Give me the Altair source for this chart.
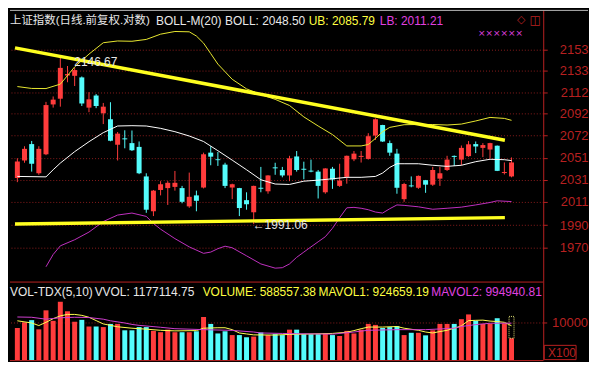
import altair as alt
import pandas as pd

# ---------------- data ----------------
bar_index = list(range(1, 71))
open_ = [2032.6, 2048.6, 2063.7, 2036.9, 2054.3, 2100.7, 2106.1, 2128.1, 2127.8, 2126.3,
         2097.7, 2109.1, 2092.4, 2086.8, 2063.1, 2069.0, 2064.6, 2061.1, 2034.0, 2002.5,
         2021.7, 2023.4, 2024.5, 2023.4, 2006.9, 2016.8, 2023.9, 2055.8, 2049.7, 2044.8,
         2023.9, 2023.4, 2012.5, 2001.6, 2023.7, 2020.5, 2042.3, 2039.9, 2034.9, 2052.3,
         2041.0, 2039.3, 2038.4, 2019.6, 2041.0, 2025.4, 2033.6, 2049.7, 2051.9, 2050.0,
         2071.6, 2081.4, 2064.6, 2054.9, 2013.4, 2025.8, 2023.7, 2030.6, 2026.5, 2032.0,
         2039.9, 2052.8, 2049.4, 2052.6, 2063.7, 2060.2, 2058.7, 2062.2, 2037.1, 2034.0]
close = [2047.7, 2059.3, 2045.6, 2059.3, 2100.1, 2105.2, 2135.4, 2129.5, 2133.3, 2101.6,
         2105.5, 2099.2, 2098.6, 2066.8, 2073.4, 2068.1, 2058.0, 2036.9, 2003.9, 2021.1,
         2026.9, 2028.2, 2028.2, 2011.0, 2015.5, 2011.9, 2054.3, 2052.1, 2048.9, 2025.4,
         2026.9, 2005.4, 2008.8, 2025.4, 2022.8, 2034.9, 2041.4, 2034.9, 2050.6, 2039.9,
         2040.1, 2038.4, 2025.4, 2041.3, 2031.2, 2030.3, 2052.9, 2054.9, 2052.8, 2071.0,
         2086.8, 2066.1, 2055.8, 2023.7, 2027.1, 2025.0, 2034.5, 2026.5, 2039.9, 2036.9,
         2049.4, 2051.9, 2060.2, 2063.5, 2061.5, 2062.8, 2064.6, 2039.1, 2038.0, 2046.8]
high = [2050.6, 2061.7, 2066.6, 2061.7, 2103.1, 2108.2, 2146.67, 2137.2, 2135.4, 2127.2,
        2112.3, 2110.5, 2102.1, 2102.8, 2074.9, 2076.5, 2076.3, 2066.1, 2036.9, 2021.7,
        2029.7, 2029.7, 2039.0, 2025.4, 2037.5, 2021.1, 2055.8, 2061.7, 2056.4, 2046.5,
        2027.4, 2023.6, 2019.6, 2025.6, 2042.7, 2035.1, 2046.5, 2042.7, 2052.9, 2057.3,
        2047.5, 2049.4, 2039.9, 2041.5, 2042.7, 2045.6, 2053.1, 2057.3, 2057.3, 2073.8,
        2087.6, 2081.6, 2067.0, 2059.3, 2028.2, 2034.0, 2034.9, 2030.8, 2042.7, 2042.7,
        2052.9, 2053.2, 2062.4, 2066.5, 2066.1, 2064.6, 2064.9, 2062.4, 2046.8, 2051.4]
low = [2028.8, 2046.5, 2038.4, 2035.5, 2053.5, 2097.7, 2098.6, 2121.7, 2118.1, 2099.2,
       2093.4, 2097.2, 2082.3, 2066.3, 2048.6, 2059.8, 2057.3, 2036.1, 2001.1, 1998.2,
       2016.8, 2008.2, 2021.1, 2009.7, 2005.6, 2002.5, 2023.1, 2044.2, 2043.6, 2023.4,
       2013.4, 1998.2, 2003.9, 1991.06, 2019.6, 2018.3, 2035.5, 2033.2, 2029.7, 2038.4,
       2031.4, 2037.8, 2014.0, 2018.3, 2022.7, 2024.5, 2027.4, 2048.0, 2046.7, 2049.4,
       2067.5, 2065.7, 2052.9, 2018.3, 2011.0, 2024.1, 2022.7, 2019.1, 2025.4, 2025.4,
       2039.0, 2043.6, 2044.2, 2051.9, 2055.4, 2051.7, 2050.6, 2038.9, 2035.8, 2033.2]
volume = [864100, 1017900, 1076900, 828200, 1341000, 1059000, 1571800, 1315400, 1033300, 1084600,
          905100, 905100, 889700, 974400, 974400, 802600, 802600, 889700, 889700, 787200,
          751300, 820500, 751300, 751300, 751300, 776900, 1161500, 974400, 717900, 776900,
          674400, 674400, 615400, 633300, 743600, 674400, 700000, 674400, 820500, 820500,
          700000, 700000, 700000, 717900, 674400, 648700, 787200, 717900, 820500, 974400,
          948700, 864100, 889700, 915400, 674400, 735900, 735900, 666700, 802600, 974400,
          974400, 974400, 1102600, 1230800, 1059000, 974400, 974400, 1128200, 992300, 588557.38]

mid_i = [1, 5, 6, 7, 9, 11, 13, 15, 17, 19, 21, 23, 25, 27, 29, 31, 33, 35, 37, 39, 41, 43, 45,
         47, 49, 51, 52, 53, 54, 55, 57, 59, 61, 63, 65, 67, 69, 70]
mid_v = [2034.0, 2033.6, 2040.1, 2046.2, 2056.7, 2065.9, 2074.3, 2080.5, 2080.8, 2080.5, 2078.3,
         2075.2, 2071.2, 2066.1, 2057.6, 2048.9, 2040.1, 2031.0, 2027.1, 2026.7, 2029.7, 2030.6,
         2031.9, 2033.2, 2033.2, 2034.0, 2037.1, 2042.3, 2045.6, 2045.6, 2045.6, 2044.2, 2043.2,
         2044.2, 2047.5, 2049.7, 2049.3, 2048.50]
ub_i = [1, 3, 5, 7, 9, 11, 13, 15, 17, 19, 21, 23, 25, 26, 27, 28, 29, 31, 33, 35, 37, 39, 41,
        43, 45, 47, 49, 50, 51, 52, 53, 55, 57, 59, 61, 63, 65, 67, 69, 70]
ub_v = [2117.6, 2115.8, 2115.7, 2119.9, 2136.3, 2148.6, 2159.6, 2161.3, 2161.0, 2162.8, 2167.9,
        2170.5, 2170.2, 2166.1, 2159.2, 2149.1, 2139.0, 2124.5, 2115.4, 2110.0, 2105.5, 2099.7,
        2089.0, 2080.5, 2072.5, 2062.0, 2062.0, 2063.3, 2069.0, 2075.2, 2079.2, 2081.7, 2081.9,
        2081.9, 2081.4, 2082.3, 2085.2, 2088.5, 2087.6, 2085.79]
lb_i = [5, 6, 7, 9, 11, 13, 15, 17, 19, 20, 21, 23, 25, 27, 28, 29, 30, 31, 33, 35, 37, 38, 39,
        40, 41, 42, 43, 44, 45, 46, 47, 48, 49, 50, 51, 52, 53, 54, 55, 57, 59, 61, 63, 65, 67,
        68, 70]
lb_v = [1953.3, 1964.1, 1971.7, 1977.1, 1983.9, 1993.3, 1999.1, 2000.9, 1997.9, 1991.6, 1986.5,
        1978.1, 1970.8, 1965.1, 1966.2, 1969.2, 1971.4, 1970.0, 1962.9, 1955.8, 1952.1, 1952.5,
        1955.8, 1961.6, 1966.2, 1970.8, 1975.3, 1979.8, 1987.3, 1996.7, 2005.6, 2006.0, 2005.2,
        2003.9, 2001.8, 2000.9, 2004.8, 2008.2, 2007.8, 2006.5, 2004.3, 2005.2, 2006.2, 2008.2,
        2010.4, 2011.9, 2011.21]

mavol1_i = [1, 3, 4, 5, 6, 7, 8, 9, 10, 11, 12, 13, 15, 17, 19, 21, 23, 26, 27, 29, 30, 31, 32,
            33, 34, 37, 39, 41, 45, 47, 48, 49, 50, 52, 54, 55, 57, 58, 59, 60, 61, 62, 63, 64,
            65, 66, 67, 68, 69, 70]
mavol1_v = [1059000, 1000000, 930800, 1017900, 1115400, 1192300, 1230800, 1230800, 1205100,
            1153800, 1064100, 974400, 897400, 859000, 833300, 802600, 787200, 794900, 859000,
            871800, 871800, 820500, 730800, 705100, 679500, 674400, 692300, 700000, 717900,
            751300, 794900, 846200, 889700, 889700, 905100, 859000, 802600, 756400, 730800,
            769200, 802600, 859000, 923100, 1064100, 1071800, 1076900, 1051300, 1038500,
            1017900, 924659.19]
mavol2_i = [1, 3, 5, 7, 9, 11, 13, 14, 16, 17, 18, 21, 23, 27, 31, 34, 35, 38, 40, 45, 48, 49,
            50, 54, 58, 60, 62, 63, 65, 66, 67, 70]
mavol2_v = [1161500, 1153800, 1102600, 1141000, 1153800, 1146200, 1102600, 1059000, 1000000,
            961500, 935900, 884600, 846200, 820500, 800000, 756400, 730800, 717900, 710300,
            700000, 756400, 782100, 802600, 820500, 820500, 838500, 859000, 905100, 956400,
            974400, 992300, 994940.81]

trend_up_i = [0.67, 69.07]
trend_up_p = [2154.6, 2067.2]
trend_lo_i = [0.67, 69.07]
trend_lo_p = [1991.1, 1996.8]

price_ticks = [1970, 1990, 2011, 2031, 2051, 2072, 2092, 2112, 2133, 2153]
vol_ticks = [1000000]
boll_last, ub_last, lb_last = 2048.50, 2085.79, 2011.21
vvol_last, volume_last = 1177114.75, 588557.38
mavol1_last, mavol2_last = 924659.19, 994940.81

# ---------------- layout ----------------
PW, PH = 536, 352
SX, SY = PW / 548.0, PH / 368.0
X_DOMAIN = [0.6667, 73.733]
PRICE_DOMAIN = [1873.3, 2191.6]
VOL_DOMAIN = [0, 9435900]

RED = "#ff3c3c"
CYAN = "#54fcfc"
AXRED = "#b82020"
GRID = "#8a1c1c"
WHITE = "#e8e8e8"
YEL = "#ffff40"
MAG = "#e040e0"
FONT = "Arial, Liberation Sans, Noto Sans CJK SC, sans-serif"
NUMFONT = "Arial, Liberation Sans"

df = pd.DataFrame({"i": bar_index, "open": open_, "close": close, "high": high,
                   "low": low, "vol": volume})
df["dir"] = ["up" if c >= o else "down" for o, c in zip(df.open, df.close)]
df["lo"] = df[["open", "close"]].min(axis=1)
df["hi"] = df[["open", "close"]].max(axis=1)

xs = alt.Scale(domain=X_DOMAIN, nice=False, zero=False)
ps = alt.Scale(type="log", domain=PRICE_DOMAIN, nice=False, zero=False)
vs = alt.Scale(domain=VOL_DOMAIN, nice=False)
X = alt.X("i:Q", scale=xs, axis=None)
col = alt.Color("dir:N", scale=alt.Scale(domain=["up", "down"], range=[RED, CYAN]), legend=None)

price_axis = alt.Axis(orient="right", values=price_ticks, format="d", title=None,
                      labelColor=AXRED, labelFont=NUMFONT, labelFontSize=13,
                      labelAlign="right", labelBaseline="middle", labelPadding=41,
                      labelOverlap=False, labelFlush=False,
                      tickColor=AXRED, tickSize=4, domainColor=AXRED, domainWidth=1,
                      grid=True, gridColor=GRID, gridDash=[1, 2], gridWidth=1)

wick = alt.Chart(df).mark_rule(strokeWidth=1).encode(
    x=X, y=alt.Y("low:Q", scale=ps, axis=price_axis), y2="high:Q", color=col)
body = alt.Chart(df).mark_bar(size=5).encode(
    x=X, y=alt.Y("lo:Q", scale=ps, axis=None), y2="hi:Q", color=col)


def line(xi, yv, color, width=1, scale=ps):
    d = pd.DataFrame({"i": xi, "v": yv})
    return alt.Chart(d).mark_line(color=color, strokeWidth=width).encode(
        x=X, y=alt.Y("v:Q", scale=scale, axis=None))


mid = line(mid_i, mid_v, "#ffffff")
ub = line(ub_i, ub_v, "#e8e830")
lb = line(lb_i, lb_v, "#c030c0")
tr_up = line(trend_up_i, trend_up_p, "#ffff20", 3.5)
tr_lo = line(trend_lo_i, trend_lo_p, "#ffff20", 3.5)

hi_row = df.loc[df.high.idxmax()]
lo_row = df.loc[df.low.idxmin()]
hi_lab = alt.Chart(pd.DataFrame([{"i": hi_row.i, "p": hi_row.high, "t": f"{hi_row.high:.2f}"}])).mark_text(
    align="left", baseline="middle", dx=14, dy=6, color=WHITE, font=FONT, fontSize=12).encode(
    x=X, y=alt.Y("p:Q", scale=ps, axis=None), text="t:N")
lo_lab = alt.Chart(pd.DataFrame([{"i": lo_row.i, "p": lo_row.low, "t": f"←{lo_row.low:.2f}"}])).mark_text(
    align="left", baseline="middle", dx=-1, dy=1, color=WHITE, font=FONT, fontSize=12).encode(
    x=X, y=alt.Y("p:Q", scale=ps, axis=None), text="t:N")

# volume panel
vbars = alt.Chart(df).mark_bar(size=5).encode(
    x=X, y=alt.Y("vol:Q", scale=vs, axis=None), color=col)
cur = alt.Chart(pd.DataFrame([{"i": 70, "top": vvol_last, "bot": volume_last}])).mark_bar(
    size=5, filled=False, color="#d8d870", strokeDash=[1, 1], strokeWidth=1).encode(
    x=X, y=alt.Y("top:Q", scale=vs, axis=None), y2="bot:Q")
mv1 = line(mavol1_i, mavol1_v, "#ffff50", 1, vs)
mv2 = line(mavol2_i, mavol2_v, "#d040d0", 1, vs)
vgrid_d = pd.DataFrame({"v": vol_ticks, "t": [f"{v / 100:.0f}" for v in vol_ticks]})
vgrid = alt.Chart(vgrid_d).mark_rule(color=GRID, strokeDash=[1, 2]).encode(
    y=alt.Y("v:Q", scale=vs, axis=None))
vtick = alt.Chart(vgrid_d).mark_rule(color=AXRED).encode(
    x=alt.value(PW), x2=alt.value(PW + 4), y=alt.Y("v:Q", scale=vs, axis=None))
vlab = alt.Chart(vgrid_d).mark_text(align="right", baseline="middle", color=AXRED,
                                    font=NUMFONT, fontSize=13).encode(
    x=alt.value(PW + 45), y=alt.Y("v:Q", scale=vs, axis=None), text="t:N")

ONE = alt.Data(values=[{"k": 1}])


def label(txt, xr, yr, color, size=12, font=FONT):
    return alt.Chart(ONE).mark_text(text=txt, align="left", baseline="middle", color=color,
                                    fontSize=size, font=font).encode(
        x=alt.value(xr * SX), y=alt.value(yr * SY))


def hrule(yr, color, x0, x1, w=1):
    return alt.Chart(ONE).mark_rule(color=color, strokeWidth=w).encode(
        x=alt.value(x0), x2=alt.value(x1), y=alt.value(yr * SY))


labels = [
    label("上证指数(日线.前复权.对数)", 0, 11.5, WHITE, 11.5),
    label("BOLL-M(20)", 150, 11.5, WHITE),
    label(f"BOLL: {boll_last:.2f}", 221, 11.5, WHITE),
    label(f"UB: {ub_last:.2f}", 307, 11.5, YEL),
    label(f"LB: {lb_last:.2f}", 380, 11.5, MAG),
    label("◇", 521, 10.5, AXRED, 11, "DejaVu Sans"),
    label("◫", 534, 10.5, AXRED, 12, "DejaVu Sans"),
    label("××××××", 481, 24, MAG, 9, "DejaVu Sans"),
    label("VOL-TDX(5,10)", 0, 296, WHITE),
    label(f"VVOL: {vvol_last:.2f}", 87, 296, WHITE),
    label(f"VOLUME: {volume_last:.2f}", 198, 296, YEL),
    label(f"MAVOL1: {mavol1_last:.2f}", 317, 296, YEL),
    label(f"MAVOL2: {mavol2_last:.2f}", 433, 296, MAG),
    label("X100", 553, 360.5, AXRED, 12, NUMFONT),
]
x100_box = alt.Chart(ONE).mark_rect(fillOpacity=0, stroke=AXRED, strokeWidth=1).encode(
    x=alt.value(PW + 1), x2=alt.value(PW + 33), y=alt.value(352.5 * SY), y2=alt.value(367.5 * SY))

seps = [hrule(286, AXRED, 0, PW), hrule(0.5, "#b8b8b8", 0, PW + 45),
        hrule(368.5, AXRED, 0, PW)]

chart = alt.layer(
    wick, body, mid, ub, lb, tr_up, tr_lo, hi_lab, lo_lab,
    vgrid, vbars, cur, mv1, mv2, vtick, vlab, x100_box, *seps, *labels
).resolve_scale(y="independent").properties(
    width=PW, height=PH, background="#000000", padding=0
).configure_view(stroke=None)

chart.save("out.html", embed_options={"renderer": "svg", "actions": False})
